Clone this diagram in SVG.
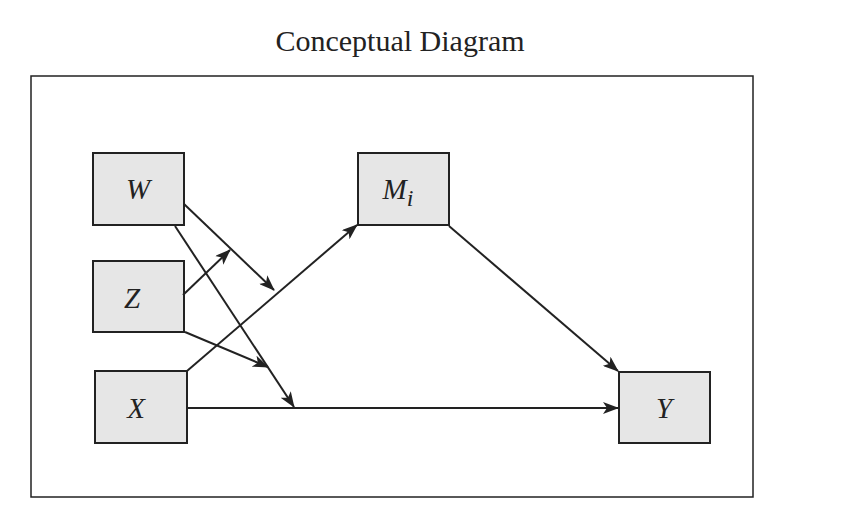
<svg xmlns="http://www.w3.org/2000/svg" width="847" height="527" viewBox="0 0 847 527">
<style>
.box{fill:#e6e6e6;stroke:#222;stroke-width:2}
.lbl{font-family:"Liberation Serif",serif;font-style:italic;font-size:29px;fill:#222;text-anchor:middle}
.c line{stroke:#222;stroke-width:2;marker-end:url(#ah)}
</style>
<defs>
<marker id="ah" viewBox="0 0 16 12" refX="15" refY="6" markerWidth="16" markerHeight="12" markerUnits="userSpaceOnUse" orient="auto">
<path d="M0,0 L16,6 L0,12 L4,6 Z" fill="#222"/>
</marker>
</defs>
<rect width="847" height="527" fill="#fff"/>
<text x="400" y="51" font-family="Liberation Serif,serif" font-size="30" text-anchor="middle" fill="#222">Conceptual Diagram</text>
<rect x="31" y="76" width="722" height="421" fill="none" stroke="#222" stroke-width="1.5"/>
<g id="W"><rect class="box" x="93" y="153" width="91" height="72"/><text class="lbl" x="138" y="199">W</text></g>
<g id="Z"><rect class="box" x="93" y="261" width="91" height="71"/><text class="lbl" x="132" y="308">Z</text></g>
<g id="X"><rect class="box" x="95" y="371" width="92" height="72"/><text class="lbl" x="136" y="418">X</text></g>
<g id="M"><rect class="box" x="358" y="153" width="91" height="72"/><text class="lbl" x="398" y="199">M<tspan font-size="24" dy="7">i</tspan></text></g>
<g id="Y"><rect class="box" x="619" y="372" width="91" height="71"/><text class="lbl" x="664" y="418">Y</text></g>
<g class="c">
<line x1="184" y1="204" x2="274" y2="290"/>
<line x1="175" y1="226" x2="294" y2="407"/>
<line x1="183" y1="295" x2="230" y2="250"/>
<line x1="185" y1="332" x2="268" y2="367"/>
<line x1="187" y1="371" x2="357" y2="225"/>
<line x1="187" y1="408" x2="618" y2="408"/>
<line x1="449" y1="226" x2="618" y2="371"/>
</g>
</svg>
